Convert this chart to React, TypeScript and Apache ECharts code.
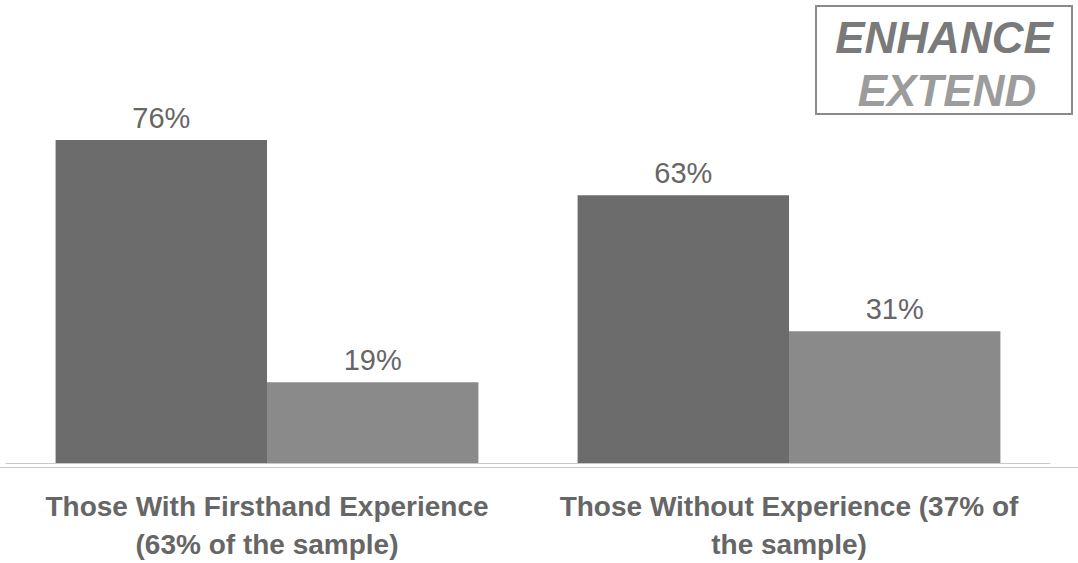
import React, { useEffect, useRef } from "react";
import * as echarts from "echarts";

const categories = [
  "Those With Firsthand Experience\n(63% of the sample)",
  "Those Without Experience (37% of\nthe sample)",
];
const seriesA = [76, 63];
const seriesB = [19, 31];
const boxLines = ["ENHANCE", "EXTEND"];

export default function App() {
  const ref = useRef<HTMLDivElement>(null);
  useEffect(() => {
    if (!ref.current) return;
    const chart = echarts.init(ref.current, null, { renderer: "svg" });
    const labelStyle = {
      show: true,
      position: "top",
      distance: 8,
      formatter: "{c}%",
      color: "#666666",
      fontSize: 29,
      fontFamily: "Liberation Sans, Arial, sans-serif",
    };
    chart.setOption({
      animation: false,
      backgroundColor: "#ffffff",
      grid: { left: 6, right: 28, top: 38, bottom: 96 },
      xAxis: {
        type: "category",
        data: categories,
        axisLine: { show: true, lineStyle: { color: "#c8c8c8", width: 1 } },
        axisTick: { show: false },
        axisLabel: {
          margin: 24,
          color: "#666666",
          fontSize: 28,
          fontWeight: "bold",
          lineHeight: 38,
          fontFamily: "Liberation Sans, Arial, sans-serif",
          interval: 0,
        },
      },
      yAxis: {
        type: "value",
        min: 0,
        max: 100,
        show: false,
        splitLine: { show: false },
      },
      series: [
        {
          type: "bar",
          data: seriesA,
          barGap: "0%",
          barCategoryGap: "19%",
          itemStyle: { color: "#6c6c6c" },
          label: labelStyle,
        },
        {
          type: "bar",
          data: seriesB,
          itemStyle: { color: "#8a8a8a" },
          label: labelStyle,
        },
      ],
      graphic: [
        {
          type: "line",
          shape: { x1: 0, y1: 467.5, x2: 1078, y2: 467.5 },
          style: { stroke: "#c8c8c8", lineWidth: 1 },
          z: -1,
        },
        {
          type: "rect",
          shape: { x: 816, y: 6, width: 256, height: 108 },
          style: { fill: "#ffffff", stroke: "#8a8a8a", lineWidth: 2 },
        },
        {
          type: "text",
          x: 944,
          y: 37,
          style: {
            text: boxLines[0],
            fill: "#7a7a7a",
            font: "italic bold 44px Liberation Sans, Arial, sans-serif",
            textAlign: "center",
            textVerticalAlign: "middle",
          },
        },
        {
          type: "text",
          x: 947,
          y: 90,
          style: {
            text: boxLines[1],
            fill: "#9c9c9c",
            font: "italic bold 44px Liberation Sans, Arial, sans-serif",
            textAlign: "center",
            textVerticalAlign: "middle",
          },
        },
      ],
    });
    return () => chart.dispose();
  }, []);
  return (
    <div
      ref={ref}
      style={{ position: "fixed", left: 0, top: 0, width: 1078, height: 563 }}
    />
  );
}
